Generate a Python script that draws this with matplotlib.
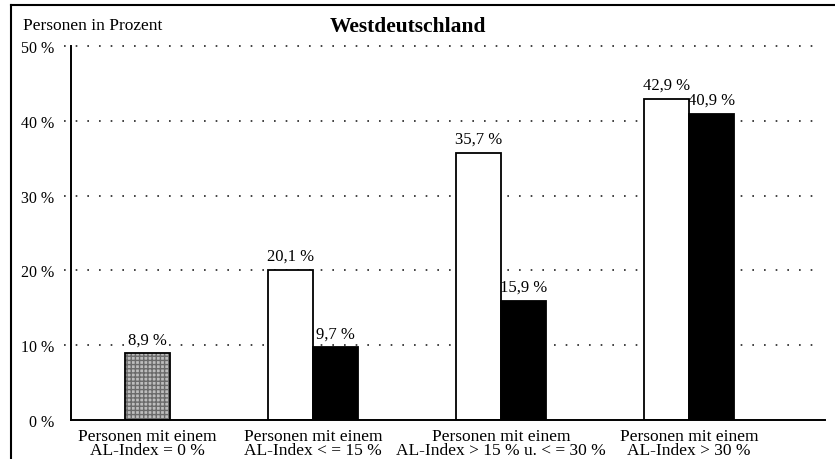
import matplotlib
matplotlib.use("Agg")
import matplotlib.pyplot as plt
from matplotlib.lines import Line2D
import numpy as np

plt.rcParams['font.family'] = ['Liberation Serif', 'DejaVu Serif']

CATEGORIES = [
    "Personen mit einem\nAL-Index = 0 %",
    "Personen mit einem\nAL-Index < = 15 %",
    "Personen mit einem\nAL-Index > 15 % u. < = 30 %",
    "Personen mit einem\nAL-Index > 30 %",
]
WHITE_VALUES = [None, 20.1, 35.7, 42.9]
BLACK_VALUES = [8.9, 9.7, 15.9, 40.9]
Y_TICKS = [0, 10, 20, 30, 40, 50]
Y_TICK_LABELS = ["0 %", "10 %", "20 %", "30 %", "40 %", "50 %"]

WIDTH = 0.24


def fmt(v):
    return f"{v:.1f}".replace(".", ",") + " %"


def add_value(ax, pos, v):
    # label sits under the bars so its white box never hides a bar outline
    ax.text(pos, v + 0.8, fmt(v), ha="center", va="bottom", fontsize=12,
            zorder=1.5, bbox=dict(facecolor="white", edgecolor="none", pad=1))


def main():
    fig = plt.figure(figsize=(8.35, 4.6), dpi=100)
    ax = fig.add_axes([0.085, 0.085, 0.903, 0.813])

    x = np.arange(len(CATEGORIES))

    # dotted grid lines, slightly past the y axis on the left
    for t in Y_TICKS[1:]:
        ax.plot([-0.009, 0.991], [t, t], transform=ax.get_yaxis_transform(),
                color="#222222", linestyle=(0, (1, 6)), linewidth=1.2,
                clip_on=False, zorder=1)

    label_positions = []
    for i, xi in enumerate(x):
        w = WHITE_VALUES[i]
        b = BLACK_VALUES[i]
        if w is None:
            # single bar, drawn grey and stippled
            pos = xi + WIDTH / 2
            ax.bar(pos, b, WIDTH, color="#bdbdbd", edgecolor="#6a6a6a",
                   hatch="++++", linewidth=0, zorder=2)
            ax.bar(pos, b, WIDTH, fill=False, edgecolor="black",
                   linewidth=1.3, zorder=3)
            add_value(ax, pos, b)
            label_positions.append(pos)
        else:
            ax.bar(xi - WIDTH / 2, w, WIDTH, color="white", edgecolor="black",
                   linewidth=1.3, zorder=2)
            ax.bar(xi + WIDTH / 2, b, WIDTH, color="black", edgecolor="black",
                   linewidth=1.3, zorder=2)
            add_value(ax, xi - WIDTH / 2, w)
            add_value(ax, xi + WIDTH / 2, b)
            label_positions.append(xi)

    ax.set_xlim(-0.287, 3.723)
    ax.set_ylim(0, 50)
    ax.set_yticks(Y_TICKS)
    ax.set_yticklabels(Y_TICK_LABELS, fontsize=11.5)
    ax.set_xticks(label_positions)
    ax.set_xticklabels(CATEGORIES, fontsize=12.5, linespacing=0.85)
    ax.tick_params(axis="both", length=0)
    ax.tick_params(axis="y", pad=12)
    ax.tick_params(axis="x", pad=6)

    for side in ["top", "right"]:
        ax.spines[side].set_visible(False)
    ax.spines["left"].set_linewidth(1.4)
    ax.spines["bottom"].set_linewidth(1.4)

    fig.text(0.027, 0.943, "Personen in Prozent", fontsize=12.5, ha="left", va="center")
    fig.text(0.489, 0.941, "Westdeutschland", fontsize=15.5, fontweight="bold",
             ha="center", va="center")

    # frame pieces of the scanned page
    fig.add_artist(Line2D([0.0135, 1.0], [0.987, 0.987], color="black", linewidth=1.5))
    fig.add_artist(Line2D([0.0135, 0.0135], [0.0, 0.987], color="black", linewidth=1.5))

    fig.savefig("out.png", dpi=100)


main()
